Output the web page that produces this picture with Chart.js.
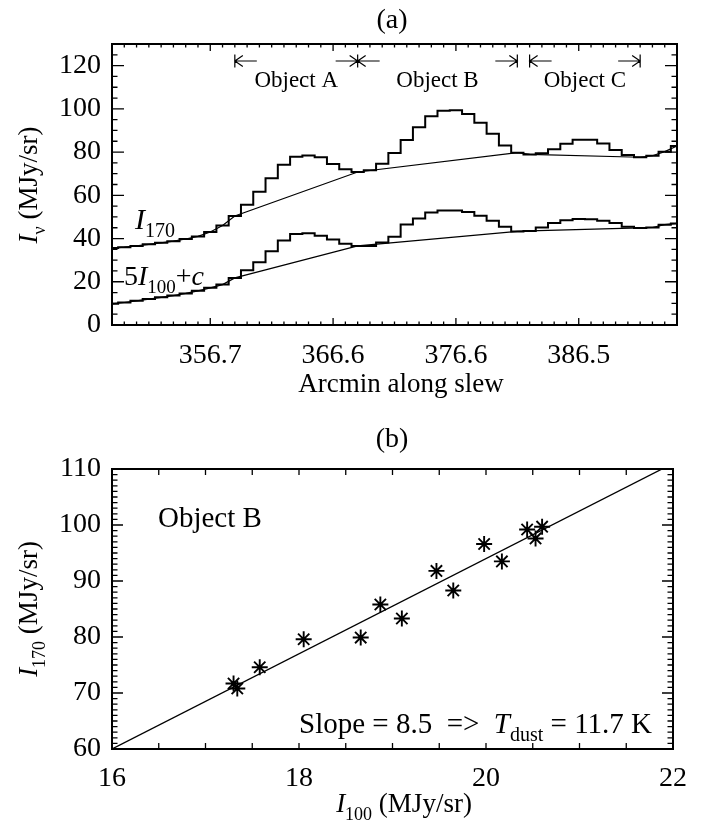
<!DOCTYPE html>
<html>
<head>
<meta charset="utf-8">
<title>Slew cut and I170 vs I100</title>
<script src="https://cdn.jsdelivr.net/npm/chart.js@4.4.1/dist/chart.umd.min.js"></script>
<style>
  html, body { margin: 0; padding: 0; background: #fff; }
  #wrap { position: relative; width: 702px; height: 827px; }
  canvas { position: absolute; left: 0; }
  #slew { top: 0; }
  #fit { top: 413px; }
</style>
</head>
<body>
<div id="wrap">
  <canvas id="slew" width="702" height="413"></canvas>
  <canvas id="fit" width="702" height="414"></canvas>
</div>
<script>
// --- panel (a): cut along the slew, one value per ~1 arcmin bin
var arcmin = [348.76, 349.75, 350.74, 351.74, 352.73, 353.72, 354.71, 355.71,
  356.70, 357.69, 358.69, 359.68, 360.67, 361.67, 362.66, 363.65, 364.64, 365.64,
  366.63, 367.62, 368.62, 369.61, 370.60, 371.60, 372.59, 373.58, 374.57, 375.57,
  376.56, 377.55, 378.55, 379.54, 380.53, 381.53, 382.52, 383.51, 384.50, 385.50,
  386.49, 387.48, 388.48, 389.47, 390.46, 391.46, 392.45, 393.44, 394.43];
var i170 = [35.6, 36.0, 36.6, 37.3, 38.0, 38.8, 39.8, 41.0, 43.0, 46.0, 50.4, 55.6,
  61.7, 67.9, 74.1, 77.8, 78.4, 77.6, 74.5, 72.1, 70.8, 71.6, 74.6, 79.6, 85.6, 91.5,
  96.6, 99.1, 99.4, 97.6, 93.6, 88.5, 83.1, 79.7, 78.9, 79.5, 81.3, 83.9, 85.7, 85.7,
  84.0, 81.0, 78.6, 77.6, 78.3, 80.2, 82.8];
var i100scaled = [9.8, 10.4, 11.2, 12.0, 12.8, 13.6, 14.6, 15.8, 17.2, 18.7, 21.8, 25.3,
  29.0, 34.1, 39.1, 42.1, 42.5, 41.3, 39.5, 37.6, 36.6, 36.5, 38.2, 40.8, 46.5, 49.3,
  52.0, 53.0, 53.0, 52.3, 50.6, 48.2, 45.4, 43.3, 43.5, 45.1, 47.2, 48.5, 49.0, 48.9,
  48.2, 47.2, 45.5, 44.9, 45.1, 46.4, 47.0];
var xTickLabels = ['356.7', '366.6', '376.6', '386.5'];
var objectNames = ['Object A', 'Object B', 'Object C'];
var objectSpans = [[10, 20], [20, 33], [34, 43]];   // first / last bin of each object

// --- panel (b): Object B pixels
var i100 = [17.30, 17.34, 17.58, 18.05, 18.66, 18.87, 19.10, 19.47, 19.65, 19.98, 20.17, 20.44, 20.53, 20.60];
var i170B = [71.7, 70.8, 74.6, 79.6, 79.9, 85.8, 83.3, 91.8, 88.3, 96.6, 93.5, 99.2, 97.6, 99.7];
var fitX = [16, 22];
var fitY = [60.0, 111.0];

var serif = '"Liberation Serif", "Times New Roman", serif';
Chart.defaults.font.family = serif;
Chart.defaults.color = '#000';

// baseline = off-source bins only, the line is carried straight across each object
function baseline(vals) {
  return vals.map(function (v, i) {
    for (var k = 0; k < objectSpans.length; k++) {
      if (i > objectSpans[k][0] && i < objectSpans[k][1]) return null;
    }
    return v;
  });
}

// text with italic / subscript pieces: parts = [[text, 'i'|'s'|''], ...]
function font(size, italic) {
  return (italic ? 'italic ' : '') + size + 'px ' + serif;
}
function partsWidth(ctx, parts, size) {
  var w = 0;
  parts.forEach(function (p) {
    var sub = p[1].indexOf('s') >= 0;
    ctx.font = font(sub ? Math.round(size * 0.68) : size, p[1].indexOf('i') >= 0);
    w += ctx.measureText(p[0]).width;
  });
  return w;
}
function drawParts(ctx, parts, x, y, size, align) {
  var w = partsWidth(ctx, parts, size);
  var cx = align === 'center' ? x - w / 2 : x;
  ctx.textAlign = 'left';
  ctx.textBaseline = 'alphabetic';
  ctx.fillStyle = '#000';
  parts.forEach(function (p) {
    var sub = p[1].indexOf('s') >= 0;
    ctx.font = font(sub ? Math.round(size * 0.68) : size, p[1].indexOf('i') >= 0);
    ctx.fillText(p[0], cx, sub ? y + size * 0.28 : y);
    cx += ctx.measureText(p[0]).width;
  });
}
function drawPartsUp(ctx, parts, x, y, size) {
  ctx.save();
  ctx.translate(x, y);
  ctx.rotate(-Math.PI / 2);
  drawParts(ctx, parts, 0, 0, size, 'center');
  ctx.restore();
}

function tickList(min, max, step) {
  var out = [];
  for (var v = min; v <= max + 1e-9; v += step) out.push(Math.round(v * 1000) / 1000);
  return out;
}

// IDL-like box: frame plus inward ticks on all four sides
var idlBox = {
  id: 'idlBox',
  afterDatasetsDraw: function (chart, args, opts) {
    var ctx = chart.ctx, a = chart.chartArea;
    var xs = chart.scales.x, ys = chart.scales.y;
    ctx.save();
    ctx.strokeStyle = '#000';
    ctx.lineWidth = 1.3;
    ctx.beginPath();
    opts.xTicks.forEach(function (t) {
      var px = xs.getPixelForValue(t.v);
      ctx.moveTo(px, a.bottom); ctx.lineTo(px, a.bottom - t.len);
      ctx.moveTo(px, a.top); ctx.lineTo(px, a.top + t.len);
    });
    opts.yTicks.forEach(function (t) {
      var py = ys.getPixelForValue(t.v);
      ctx.moveTo(a.left, py); ctx.lineTo(a.left + t.len, py);
      ctx.moveTo(a.right, py); ctx.lineTo(a.right - t.len, py);
    });
    ctx.stroke();
    ctx.lineWidth = 2;
    ctx.strokeRect(a.left, a.top, a.right - a.left, a.bottom - a.top);
    if (opts.extra) opts.extra(chart, ctx);
    ctx.restore();
  }
};

// ---------- panel (a)
var slewXTicks = arcmin.map(function (v, i) {
  return { v: i, len: xTickLabels.indexOf(v.toFixed(1)) >= 0 ? 7 : 3.5 };
});
var slewYTicks = tickList(0, 130, 5).map(function (v) {
  return { v: v, len: v % 20 === 0 ? 12 : 5.5 };
});

function drawSlewNotes(chart, ctx) {
  var xs = chart.scales.x;
  var yArrow = 61;
  ctx.lineWidth = 1.2;
  ctx.beginPath();
  objectSpans.forEach(function (s) {
    var x0 = xs.getPixelForValue(s[0]), x1 = xs.getPixelForValue(s[1]);
    // start: |<--
    ctx.moveTo(x0, yArrow - 6.5); ctx.lineTo(x0, yArrow + 6.5);
    ctx.moveTo(x0, yArrow); ctx.lineTo(x0 + 22, yArrow);
    ctx.moveTo(x0 + 8, yArrow - 5.5); ctx.lineTo(x0, yArrow); ctx.lineTo(x0 + 8, yArrow + 5.5);
    // end: -->|
    ctx.moveTo(x1, yArrow - 6.5); ctx.lineTo(x1, yArrow + 6.5);
    ctx.moveTo(x1, yArrow); ctx.lineTo(x1 - 22, yArrow);
    ctx.moveTo(x1 - 8, yArrow - 5.5); ctx.lineTo(x1, yArrow); ctx.lineTo(x1 - 8, yArrow + 5.5);
  });
  ctx.stroke();
  objectSpans.forEach(function (s, k) {
    var xc = (xs.getPixelForValue(s[0]) + xs.getPixelForValue(s[1])) / 2;
    drawParts(ctx, [[objectNames[k], '']], xc, 87, 23, 'center');
  });
  drawParts(ctx, [['(a)', '']], 392, 28, 28, 'center');
  drawParts(ctx, [['Arcmin along slew', '']], 401, 392, 27, 'center');
  drawPartsUp(ctx, [['I', 'i'], ['\u03bd', 's'], [' (MJy/sr)', '']], 37, 185, 27);
  drawParts(ctx, [['I', 'i'], ['170', 's']], 135, 229, 30, 'left');
  drawParts(ctx, [['5', ''], ['I', 'i'], ['100', 's'], ['+', ''], ['c', 'i']], 124, 285, 28, 'left');
}

new Chart(document.getElementById('slew'), {
  type: 'line',
  data: {
    labels: arcmin,
    datasets: [
      { data: i170, stepped: 'middle', borderColor: '#000', borderWidth: 2, pointRadius: 0 },
      { data: i100scaled, stepped: 'middle', borderColor: '#000', borderWidth: 2, pointRadius: 0 },
      { data: baseline(i170), spanGaps: true, borderColor: '#000', borderWidth: 1.2, pointRadius: 0 },
      { data: baseline(i100scaled), spanGaps: true, borderColor: '#000', borderWidth: 1.2, pointRadius: 0 }
    ]
  },
  options: {
    responsive: false,
    animation: false,
    layout: { padding: { top: 44, right: 25, left: 0, bottom: 0 } },
    plugins: {
      legend: { display: false },
      tooltip: { enabled: false },
      idlBox: { xTicks: slewXTicks, yTicks: slewYTicks, extra: drawSlewNotes }
    },
    scales: {
      x: {
        type: 'category',
        offset: false,
        grid: { display: false, drawTicks: false },
        border: { display: false },
        ticks: {
          autoSkip: false, maxRotation: 0, padding: 14, font: { size: 28 },
          callback: function (v, i) {
            var s = arcmin[i].toFixed(1);
            return xTickLabels.indexOf(s) >= 0 ? s : '';
          }
        },
        afterFit: function (s) { s.height = 88; }
      },
      y: {
        min: 0, max: 130,
        grid: { display: false, drawTicks: false },
        border: { display: false },
        ticks: { stepSize: 20, includeBounds: false, padding: 11, font: { size: 28 } },
        afterFit: function (s) { s.width = 112; }
      }
    }
  },
  plugins: [idlBox]
});

// ---------- panel (b)
var fitXTicks = tickList(16, 22, 0.5).map(function (v) { return { v: v, len: 6 }; });
var fitYTicks = tickList(60, 110, 1).map(function (v) {
  return { v: v, len: v % 10 === 0 ? 11 : 5.5 };
});

function drawFitNotes(chart, ctx) {
  drawParts(ctx, [['(b)', '']], 392, 34, 28, 'center');
  drawParts(ctx, [['I', 'i'], ['100', 's'], [' (MJy/sr)', '']], 404, 399, 27, 'center');
  drawPartsUp(ctx, [['I', 'i'], ['170', 's'], [' (MJy/sr)', '']], 37, 196, 27);
  drawParts(ctx, [['Object B', '']], 158, 114, 29, 'left');
  drawParts(ctx, [['Slope = 8.5  =>  ', ''], ['T', 'i'], ['dust', 's'], [' = 11.7 K', '']], 299, 320, 29, 'left');
}

new Chart(document.getElementById('fit'), {
  type: 'scatter',
  data: {
    datasets: [
      {
        data: i100.map(function (x, k) { return { x: x, y: i170B[k] }; }),
        pointStyle: 'star', pointRadius: 8, borderColor: '#000', backgroundColor: '#000', borderWidth: 1.9
      },
      {
        data: fitX.map(function (x, k) { return { x: x, y: fitY[k] }; }),
        showLine: true, borderColor: '#000', borderWidth: 1.3, pointRadius: 0
      }
    ]
  },
  options: {
    responsive: false,
    animation: false,
    layout: { padding: { top: 56, right: 29, left: 0, bottom: 0 } },
    plugins: {
      legend: { display: false },
      tooltip: { enabled: false },
      idlBox: { xTicks: fitXTicks, yTicks: fitYTicks, extra: drawFitNotes }
    },
    scales: {
      x: {
        type: 'linear', min: 16, max: 22,
        grid: { display: false, drawTicks: false },
        border: { display: false },
        ticks: { stepSize: 2, padding: 13, maxRotation: 0, font: { size: 28 } },
        afterFit: function (s) { s.height = 78; }
      },
      y: {
        min: 60, max: 110,
        grid: { display: false, drawTicks: false },
        border: { display: false },
        ticks: { stepSize: 10, padding: 11, font: { size: 28 } },
        afterFit: function (s) { s.width = 112; }
      }
    }
  },
  plugins: [idlBox]
});
</script>
</body>
</html>
